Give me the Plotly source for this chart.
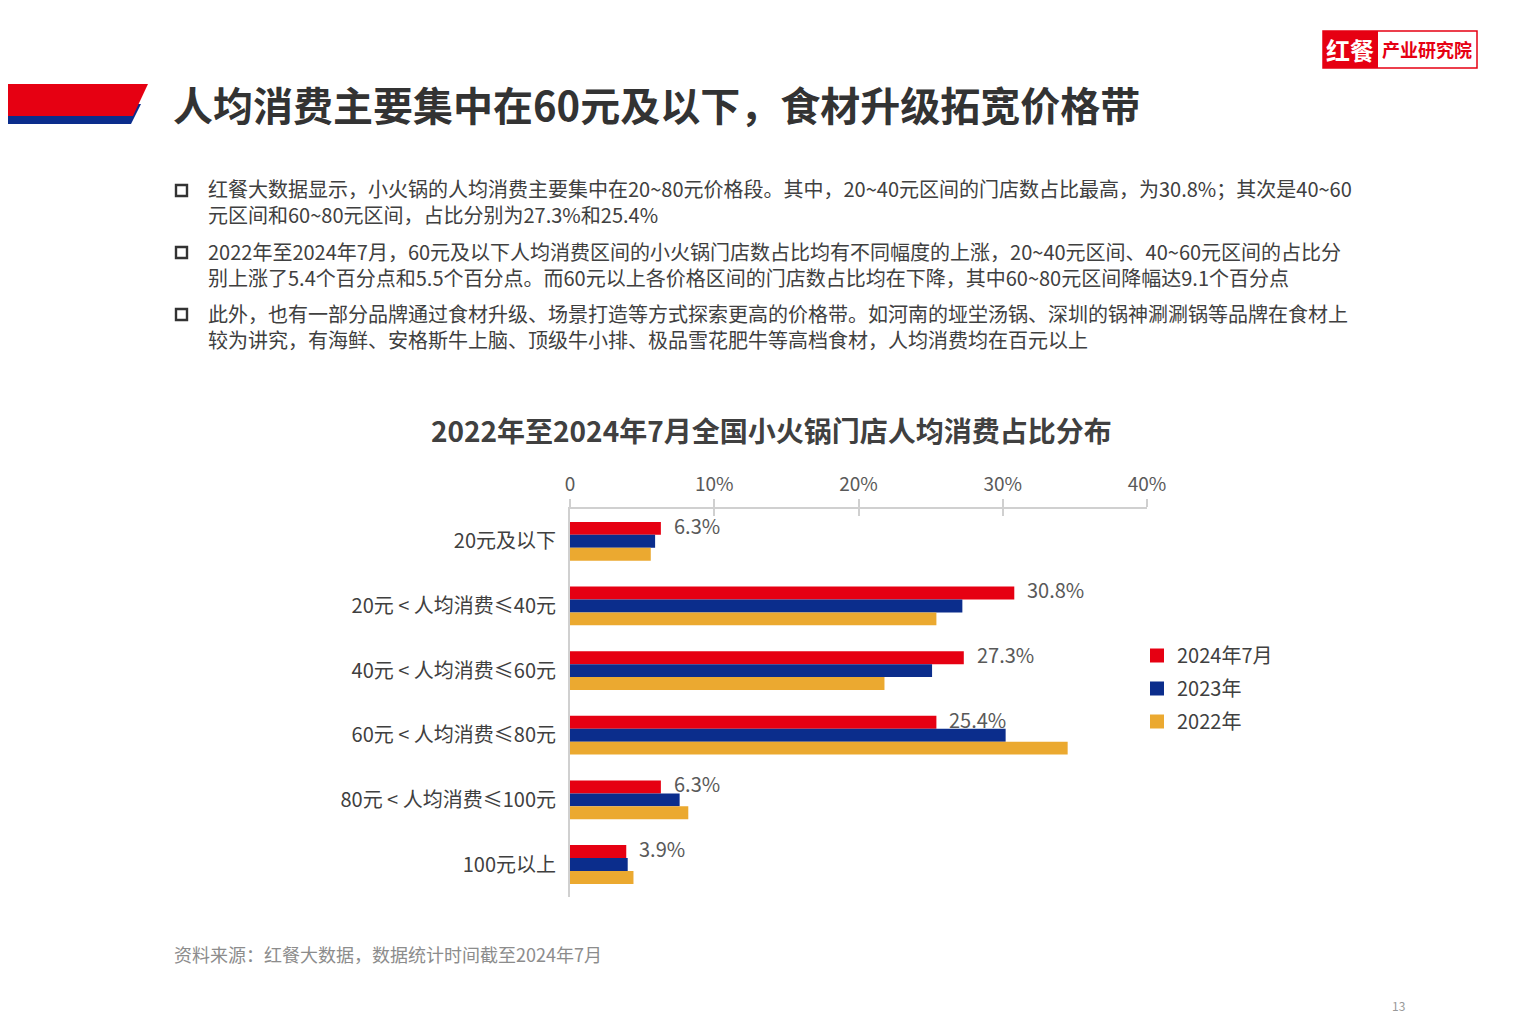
import plotly.graph_objects as go

# ---------------- data ----------------
categories = ["20元及以下", "20元 < 人均消费≤40元", "40元 < 人均消费≤60元",
              "60元 < 人均消费≤80元", "80元 < 人均消费≤100元", "100元以上"]
series_names = ["2024年7月", "2023年", "2022年"]
v2024 = [6.3, 30.8, 27.3, 25.4, 6.3, 3.9]
v2023 = [5.9, 27.2, 25.1, 30.2, 7.6, 4.0]
v2022 = [5.6, 25.4, 21.8, 34.5, 8.2, 4.4]
tick_vals = [0, 10, 20, 30, 40]
tick_text = ["0", "10%", "20%", "30%", "40%"]

page_title = "人均消费主要集中在60元及以下，食材升级拓宽价格带"
chart_title = "2022年至2024年7月全国小火锅门店人均消费占比分布"
bullets = [
    ["红餐大数据显示，小火锅的人均消费主要集中在20~80元价格段。其中，20~40元区间的门店数占比最高，为30.8%；其次是40~60",
     "元区间和60~80元区间，占比分别为27.3%和25.4%"],
    ["2022年至2024年7月，60元及以下人均消费区间的小火锅门店数占比均有不同幅度的上涨，20~40元区间、40~60元区间的占比分",
     "别上涨了5.4个百分点和5.5个百分点。而60元以上各价格区间的门店数占比均在下降，其中60~80元区间降幅达9.1个百分点"],
    ["此外，也有一部分品牌通过食材升级、场景打造等方式探索更高的价格带。如河南的垭坣汤锅、深圳的锅神涮涮锅等品牌在食材上",
     "较为讲究，有海鲜、安格斯牛上脑、顶级牛小排、极品雪花肥牛等高档食材，人均消费均在百元以上"],
]
source_text = "资料来源：红餐大数据，数据统计时间截至2024年7月"
page_no = "13"

colors = ["#E60012", "#0B2D8C", "#EBA930"]
FONT = "Noto Sans CJK SC, Noto Sans, sans-serif"

# ---------------- layout geometry (page pixel coords, body margin 8px) ----------------
OFF = 8
W_FIG, H_FIG = 1530 - OFF, 1020 - OFF
L, R, T, B = 570 - OFF, 1147 - OFF, 509 - OFF, 897 - OFF
PW, PH = R - L, B - T


def px(x):
    return (x - OFF - L) / PW


def py(y):
    return (B - (y - OFF)) / PH


fig = go.Figure()
for i, (name, vals, col) in enumerate(zip(series_names, [v2024, v2023, v2022], colors)):
    fig.add_trace(go.Bar(
        y=categories, x=vals, name=name, orientation="h", legendgroup=f"g{i}",
        marker=dict(color=col, line=dict(width=0)),
        showlegend=False, hoverinfo="skip",
    ))
# legend entries with larger square symbols
for i, (name, col) in enumerate(zip(series_names, colors)):
    fig.add_trace(go.Scatter(
        x=[None], y=[None], mode="markers", name=name, legendgroup=f"g{i}",
        marker=dict(symbol="square", size=14, color=col), hoverinfo="skip",
    ))

# invisible trace for overlay axis (ticks crossing the axis line)
fig.add_trace(go.Scatter(x=[0], y=[categories[0]], xaxis="x2", mode="markers",
                         marker=dict(opacity=0), showlegend=False, hoverinfo="skip"))

shapes = []
annotations = []

# value labels for the 2024 series
for cat, v in zip(categories, v2024):
    annotations.append(dict(x=v, y=cat, xref="x", yref="y", text=f"{v:.1f}%",
                            showarrow=False, xanchor="left", yanchor="middle",
                            xshift=11, yshift=16,
                            font=dict(size=20, color="#595959", family=FONT)))


def path(points):
    return "M " + " L ".join(f"{px(x):.5f},{py(y):.5f}" for x, y in points) + " Z"


# banner
shapes.append(dict(type="path", xref="paper", yref="paper",
                   path=path([(0, 104), (141, 104), (131, 124), (0, 124)]),
                   fillcolor="#0B2D8C", line=dict(width=0), layer="above"))
shapes.append(dict(type="path", xref="paper", yref="paper",
                   path=path([(0, 84), (148, 84), (133, 116), (0, 116)]),
                   fillcolor="#E60012", line=dict(width=0), layer="above"))

# logo
shapes.append(dict(type="rect", xref="paper", yref="paper",
                   x0=px(1323), x1=px(1477), y0=py(31), y1=py(68),
                   fillcolor="white", line=dict(color="#E60012", width=1.5)))
shapes.append(dict(type="rect", xref="paper", yref="paper",
                   x0=px(1323), x1=px(1378), y0=py(31), y1=py(68),
                   fillcolor="#E60012", line=dict(width=0)))
annotations.append(dict(x=px(1350), y=py(49), xref="paper", yref="paper", text="<b>红餐</b>",
                        showarrow=False, xanchor="center", yanchor="middle",
                        font=dict(size=24, color="white", family=FONT)))
annotations.append(dict(x=px(1427), y=py(49), xref="paper", yref="paper", text="<b>产业研究院</b>",
                        showarrow=False, xanchor="center", yanchor="middle",
                        font=dict(size=18, color="#E60012", family=FONT)))

# page title
annotations.append(dict(x=px(171), y=py(104), xref="paper", yref="paper",
                        text=f"<b>{page_title}</b>", showarrow=False,
                        xanchor="left", yanchor="middle",
                        font=dict(size=40, color="#333333", family=FONT)))

# bullets (one text block per paragraph)
para_y = [191, 253, 315]
for y0, lines in zip(para_y, bullets):
    shapes.append(dict(type="rect", xref="paper", yref="paper",
                       x0=px(176), x1=px(187), y0=py(y0 - 6), y1=py(y0 + 5),
                       fillcolor="white", line=dict(color="#333333", width=2.4)))
    annotations.append(dict(x=px(206), y=py(y0 + 11), xref="paper", yref="paper",
                            text="<br>".join(lines), showarrow=False,
                            xanchor="left", yanchor="middle", align="left",
                            font=dict(size=20, color="#404040", family=FONT)))

# chart title
annotations.append(dict(x=px(771), y=py(430), xref="paper", yref="paper",
                        text=f"<b>{chart_title}</b>", showarrow=False,
                        xanchor="center", yanchor="middle",
                        font=dict(size=28, color="#404040", family=FONT)))

# source
annotations.append(dict(x=px(172), y=py(954), xref="paper", yref="paper",
                        text=source_text, showarrow=False, xanchor="left", yanchor="middle",
                        font=dict(size=18, color="#8C8C8C", family=FONT)))
# page number
annotations.append(dict(x=px(1398), y=py(1005), xref="paper", yref="paper",
                        text=page_no, showarrow=False, xanchor="center", yanchor="middle",
                        font=dict(size=12, color="#999999", family=FONT)))

fig.update_layout(
    width=W_FIG, height=H_FIG,
    margin=dict(l=L, r=W_FIG - R, t=T, b=H_FIG - B, pad=0),
    paper_bgcolor="white", plot_bgcolor="white",
    font=dict(family=FONT, color="#404040"),
    barmode="group", bargap=0.4, bargroupgap=0,
    showlegend=True,
    legend=dict(x=px(1137), y=py(636), xanchor="left", yanchor="top",
                font=dict(size=20, color="#404040", family=FONT),
                traceorder="grouped", itemwidth=30, tracegroupgap=4,
                bgcolor="rgba(0,0,0,0)"),
    xaxis=dict(side="top", range=[0, 40], tickvals=tick_vals, ticktext=tick_text,
               showline=True, linecolor="#D0D0D0", linewidth=2,
               ticks="outside", ticklen=8, tickwidth=1.5, tickcolor="#D0D0D0",
               showgrid=False, zeroline=False,
               tickfont=dict(size=19, color="#595959", family=FONT)),
    xaxis2=dict(overlaying="x", side="top", range=[0, 40], tickvals=tick_vals,
                showticklabels=False, ticks="inside", ticklen=7, tickwidth=1.5,
                tickcolor="#D0D0D0", showgrid=False, zeroline=False, showline=False),
    yaxis=dict(autorange="reversed", showline=True, linecolor="#D0D0D0", linewidth=2,
               ticks="", showgrid=False, zeroline=False, ticklabelstandoff=8,
               tickfont=dict(size=20, color="#404040", family=FONT)),
    shapes=shapes, annotations=annotations,
    hovermode=False,
)

fig.write_html("out.html")
